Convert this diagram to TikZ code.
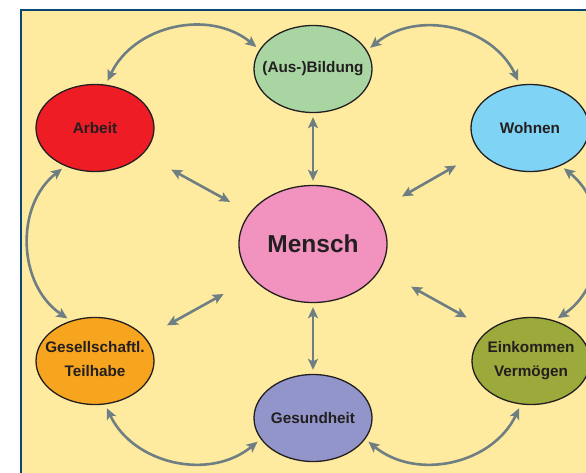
\documentclass[tikz,border=0pt]{standalone}
\usepackage{fontspec}
\setmainfont{Liberation Sans}
\usetikzlibrary{shapes.geometric,arrows.meta,calc}
\definecolor{bgyellow}{HTML}{FEEBA0}
\definecolor{framecol}{HTML}{0B4771}
\definecolor{arrowcol}{HTML}{6E7E82}
\definecolor{textcol}{HTML}{231F20}
\definecolor{cArbeit}{HTML}{EE1C25}
\definecolor{cBildung}{HTML}{A8D5A2}
\definecolor{cWohnen}{HTML}{7FD3F4}
\definecolor{cMensch}{HTML}{F292BE}
\definecolor{cGesell}{HTML}{F7A51F}
\definecolor{cEink}{HTML}{9BAA3B}
\definecolor{cGesund}{HTML}{9295C9}
\newcommand{\blbl}[1]{\makebox[0pt]{#1}}
\newcommand{\blbltwo}[2]{\makebox[0pt]{\begin{tabular}{@{}c@{}}#1\\[6pt]#2\end{tabular}}}
\tikzset{
  bubble/.style={ellipse, draw=textcol, line width=1.3pt, inner sep=0pt,
    minimum width=118pt, minimum height=87pt, text=textcol,
    font=\fontsize{15.3}{18}\selectfont\bfseries},
  bigbubble/.style={bubble, minimum width=148pt, minimum height=117pt,
    font=\fontsize{24.5}{28}\selectfont\bfseries},
  link/.style={draw=arrowcol, line width=2.6pt,
    {Stealth[length=11pt,width=10pt,inset=2.5pt]}-{Stealth[length=11pt,width=10pt,inset=2.5pt]}},
  arcl/.style={link, shorten <=4pt, shorten >=4pt, looseness=1.06},
}
\begin{document}
\begin{tikzpicture}[x=1pt,y=-1pt]
\useasboundingbox (0,0) rectangle (586,472);
\clip (0,0) rectangle (586,472);
\fill[white] (0,0) rectangle (586,472);
\draw[framecol, line width=2pt, fill=bgyellow] (21,10) rectangle (620,500);

\node[bubble, fill=cBildung] (bildung) at (313,69) {\blbl{(Aus-)Bildung}};
\node[bubble, fill=cArbeit] (arbeit) at (95,128) {\blbl{Arbeit}};
\node[bubble, fill=cWohnen] (wohnen) at (530,128) {\blbl{Wohnen}};
\node[bigbubble, fill=cMensch] (mensch) at (313,244) {\blbl{Mensch}};
\node[bubble, fill=cGesell] (gesell) at (95,361) {\blbltwo{Gesellschaftl.}{Teilhabe}};
\node[bubble, fill=cEink] (eink) at (531,361) {\blbltwo{Einkommen}{Vermögen}};
\node[bubble, fill=cGesund] (gesund) at (313,418) {\blbl{Gesundheit}};

% curved links
\draw[arcl] (arbeit.76) to[bend left=52] (bildung.160);
\draw[arcl] (bildung.19) to[bend left=52] (wohnen.103);
\draw[arcl] (arbeit.232) to[bend right=54] (gesell.121);
\draw[arcl] (wohnen.-51) to[bend left=54] (eink.60);
\draw[arcl] (gesell.-77) to[bend right=52] (gesund.-158);
\draw[arcl] (gesund.-22) to[bend right=52] (eink.-103);

% straight links
\draw[link, shorten <=4pt, shorten >=4pt] (bildung) -- (mensch);
\draw[link, shorten <=4pt, shorten >=4pt] (gesund) -- (mensch);
\draw[link] ($(arbeit)!0.35!(mensch)+(0,1)$) -- ($(arbeit)!0.62!(mensch)+(0,2)$);
\draw[link] ($(gesell)!0.33!(mensch)+(0,3)$) -- ($(gesell)!0.59!(mensch)+(0,2)$);
\draw[link] ($(wohnen)!0.34!(mensch)+(0,-2)$) -- ($(wohnen)!0.59!(mensch)$);
\draw[link] ($(eink)!0.295!(mensch)+(0,-9)$) -- ($(eink)!0.55!(mensch)+(0,-10)$);
\end{tikzpicture}
\end{document}
